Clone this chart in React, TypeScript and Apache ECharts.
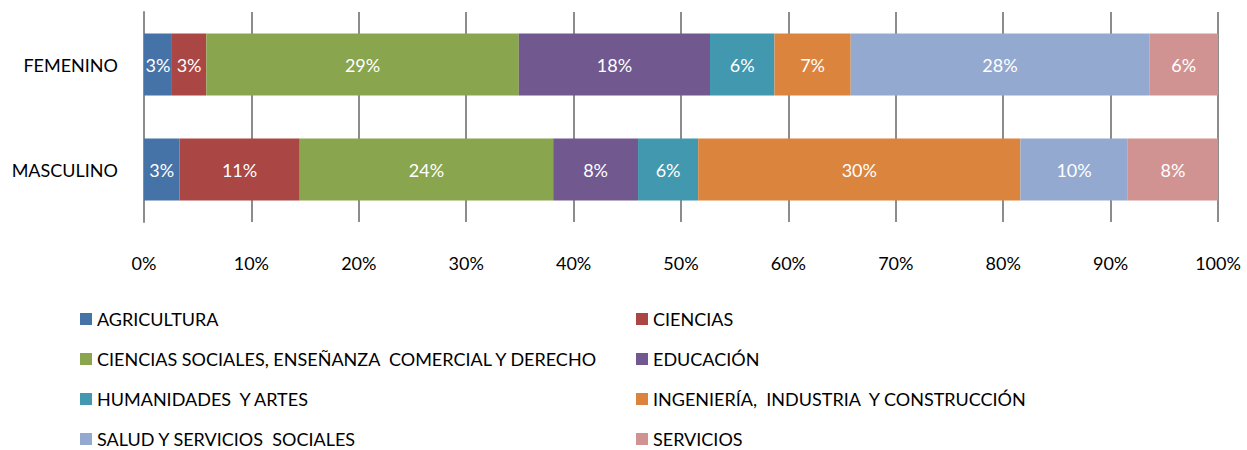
import React, { useEffect, useRef } from "react";
import * as echarts from "echarts";

const categories = ["FEMENINO", "MASCULINO"];
const seriesNames = [
  "AGRICULTURA",
  "CIENCIAS",
  "CIENCIAS SOCIALES, ENSEÑANZA  COMERCIAL Y DERECHO",
  "EDUCACIÓN",
  "HUMANIDADES  Y ARTES",
  "INGENIERÍA,  INDUSTRIA  Y CONSTRUCCIÓN",
  "SALUD Y SERVICIOS  SOCIALES",
  "SERVICIOS",
];
const femenino = [2.6, 3.2, 29.1, 17.8, 6.0, 7.1, 27.8, 6.4];
const masculino = [3.3, 11.2, 23.6, 7.9, 5.6, 30.0, 10.0, 8.4];
const colors = ["#4572A7", "#AA4643", "#89A54E", "#71588F", "#4198AF", "#DB843D", "#93A9CF", "#D19392"];
const xTicks = [0, 10, 20, 30, 40, 50, 60, 70, 80, 90, 100];

const FONT = "Lato";
const FS = 18;

export default function App() {
  const ref = useRef<HTMLDivElement>(null);
  useEffect(() => {
    document.body.style.margin = "0";
    const chart = echarts.init(ref.current!, null, { renderer: "svg" });
    const series = seriesNames.map((name, i) => ({
      name,
      type: "bar",
      stack: "total",
      barWidth: "59%",
      itemStyle: { color: colors[i] },
      label: {
        show: true,
        position: "inside",
        color: "#ffffff",
        fontFamily: FONT,
        fontSize: FS,
        formatter: (p: any) => Math.round(p.value) + "%",
      },
      data: [femenino[i], masculino[i]],
    }));
    const legendText = { color: "#000", fontFamily: FONT, fontSize: FS, lineHeight: 20 };
    const legendBase = {
      orient: "vertical",
      top: 309,
      height: 160,
      padding: 0,
      itemWidth: 12,
      itemHeight: 12,
      itemGap: 20,
      icon: "rect",
      textStyle: legendText,
    };
    chart.setOption({
      animation: false,
      color: colors,
      grid: { left: 144, right: 29, top: 12, bottom: 228, containLabel: false },
      xAxis: {
        type: "value",
        min: xTicks[0],
        max: xTicks[xTicks.length - 1],
        interval: 10,
        axisLine: { show: false },
        axisTick: { show: false },
        splitLine: { show: true, lineStyle: { color: "#8c8c8c", width: 2 } },
        axisLabel: {
          margin: 32,
          color: "#000",
          fontFamily: FONT,
          fontSize: FS,
          formatter: (v: number) => v + "%",
        },
      },
      yAxis: {
        type: "category",
        inverse: true,
        data: categories,
        axisLine: { show: true, lineStyle: { color: "#8c8c8c", width: 2 } },
        axisTick: { show: false },
        axisLabel: { margin: 26, color: "#000", fontFamily: FONT, fontSize: FS },
      },
      legend: [
        {
          ...legendBase,
          left: 80,
          data: [seriesNames[0], seriesNames[2], seriesNames[4], seriesNames[6]],
        },
        {
          ...legendBase,
          left: 636,
          data: [seriesNames[1], seriesNames[3], seriesNames[5], seriesNames[7]],
        },
      ],
      series,
    });
    return () => chart.dispose();
  }, []);
  return <div ref={ref} style={{ width: 1247, height: 450 }} />;
}
